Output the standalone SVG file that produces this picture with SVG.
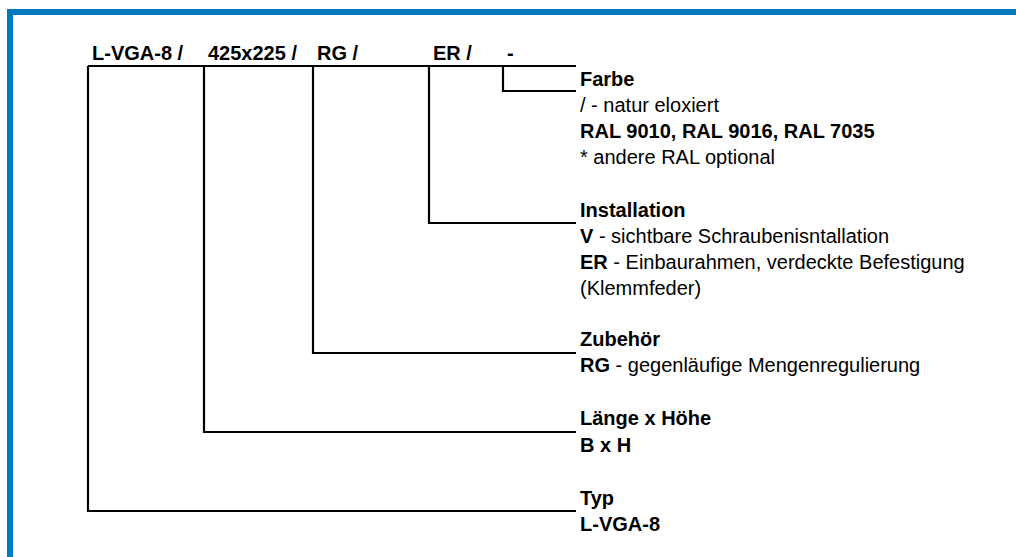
<svg xmlns="http://www.w3.org/2000/svg" width="1016" height="557" viewBox="0 0 1016 557">
<style>
text{font-family:"Liberation Sans",Arial,sans-serif;font-size:20px;fill:#000}
.b{font-weight:bold}
.ln{fill:none;stroke:#000;stroke-width:2.2}
</style>
<rect width="1016" height="557" fill="#fff"/>
<path d="M10,557 V12 H1016" fill="none" stroke="#0079bd" stroke-width="6"/>
<g id="header">
<text class="b" x="92" y="60">L-VGA-8 /</text>
<text class="b" x="208" y="60">425x225 /</text>
<text class="b" x="317" y="60">RG /</text>
<text class="b" x="433" y="60">ER /</text>
<text class="b" x="507" y="60">-</text>
</g>
<g id="connectors">
<path class="ln" d="M88,66 H576 M88,66 V511 H576 M204,66 V432 H576 M313,66 V353 H576 M429,66 V223 H576 M503,66 V91 H576"/>
</g>
<g id="farbe">
<text class="b" x="580" y="86">Farbe</text>
<text x="580" y="112">/ - natur eloxiert</text>
<text class="b" x="580" y="138">RAL 9010, RAL 9016, RAL 7035</text>
<text x="580" y="164">* andere RAL optional</text>
</g>
<g id="installation">
<text class="b" x="580" y="217">Installation</text>
<text x="580" y="243"><tspan class="b">V</tspan> - sichtbare Schraubenisntallation</text>
<text x="580" y="269"><tspan class="b">ER</tspan> - Einbaurahmen, verdeckte Befestigung</text>
<text x="580" y="295">(Klemmfeder)</text>
</g>
<g id="zubehoer">
<text class="b" x="580" y="346">Zubehör</text>
<text x="580" y="372"><tspan class="b">RG</tspan> - gegenläufige Mengenregulierung</text>
</g>
<g id="masse">
<text class="b" x="580" y="425">Länge x Höhe</text>
<text class="b" x="580" y="452">B x H</text>
</g>
<g id="typ">
<text class="b" x="580" y="505">Typ</text>
<text class="b" x="580" y="531">L-VGA-8</text>
</g>
</svg>
